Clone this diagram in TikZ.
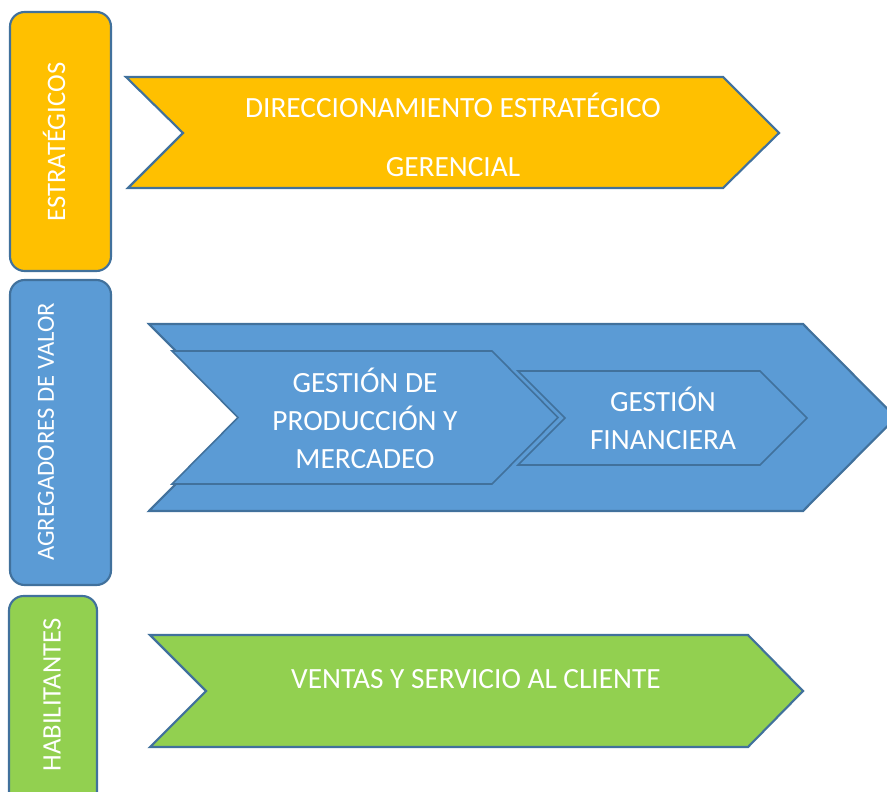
\documentclass[tikz,border=0pt]{standalone}
\usepackage{fontspec}
\setmainfont{Carlito}
\usepackage{xcolor}
\definecolor{estrategico}{HTML}{FFC000}
\definecolor{agregador}{HTML}{5B9BD5}
\definecolor{habilitante}{HTML}{92D050}
\definecolor{borde}{HTML}{41719C}

\begin{document}
\begin{tikzpicture}[x=0.75pt,y=-0.75pt,line join=miter,
		cinta/.style={draw=borde,line width=1.6pt},
		cintainterna/.style={draw=borde,line width=1.2pt,fill=agregador},
		caja/.style={draw=borde,line width=1.6pt,rounded corners=11pt},
		rotulo/.style={text=white,font=\fontsize{22}{28.5}\selectfont,align=center},
		grupo/.style={text=white,font=\fontsize{20}{24}\selectfont,rotate=90}]
			\clip (0,0) rectangle (887,791);

			% Group boxes
			\draw[caja,fill=estrategico] (10,12) rectangle (111,271);
			\draw[caja,fill=agregador] (10,280) rectangle (111,585);
			\draw[caja,fill=habilitante] (9,596) rectangle (97,810);
			\node[grupo] (estrategicos) at (54,142) {ESTRATÉGICOS};
			\node[grupo,font=\fontsize{18.5}{22}\selectfont] (agregadores) at (46,432) {AGREGADORES DE VALOR};
			\node[grupo] (habilitantes) at (52,695) {HABILITANTES};

			% Strategic process
			\draw[cinta,fill=estrategico] (126,77) -- (723,77) -- (779,133) -- (723,188) -- (128,188) -- (183,133) -- cycle;
			\node[rotulo] (direccionamiento) at (453,135) {DIRECCIONAMIENTO ESTRATÉGICO\\[16pt]GERENCIAL};

			% Value processes
			\draw[cinta,fill=agregador] (149,324) -- (803,324) -- (896,417.5) -- (803,511) -- (149,511) -- (242,417.5) -- cycle;
			\draw[cintainterna] (172,351) -- (492,351) -- (558,417.5) -- (492,484) -- (172,484) -- (238,417.5) -- cycle;
			\draw[cintainterna] (518,371) -- (760,371) -- (807,418) -- (760,465) -- (518,465) -- (565,418) -- cycle;
			\node[rotulo] (produccion) at (365,418) {GESTIÓN DE\\PRODUCCIÓN Y\\MERCADEO};
			\node[rotulo] (financiera) at (663,418) {GESTIÓN\\FINANCIERA};

			% Enabling process
			\draw[cinta,fill=habilitante] (150,635) -- (748,635) -- (803,691) -- (748,747) -- (150,747) -- (206,691) -- cycle;
			\node[rotulo] (ventas) at (476,679) {VENTAS Y SERVICIO AL CLIENTE};
		\end{tikzpicture}
\end{document}
